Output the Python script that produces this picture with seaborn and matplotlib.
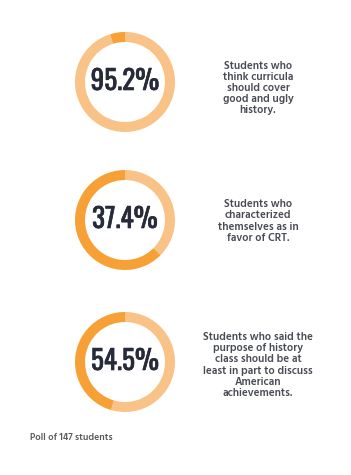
import matplotlib
matplotlib.use("Agg")
import matplotlib.pyplot as plt
import matplotlib.patheffects as pe
import seaborn as sns

# data
percents = [95.2, 37.4, 54.5]
pct_labels = ["95.2%", "37.4%", "54.5%"]
descriptions = [
    "Students who\nthink curricula\nshould cover\ngood and ugly\nhistory.",
    "Students who\ncharacterized\nthemselves as in\nfavor of CRT.",
    "Students who said the\npurpose of history\nclass should be at\nleast in part to discuss\nAmerican\nachievements.",
]
footnote = "Poll of 147 students"

sns.set_theme(style="white")
W, H = 351, 475
fig = plt.figure(figsize=(W / 100, H / 100), dpi=100)
fig.patch.set_facecolor("white")

light = "#F9C286"
dark = "#F7A036"
navy = "#272B39"
gray = "#4A4C55"
big_font = ["Oswald", "Fjalla One", "DejaVu Sans"]
body_font = ["Hind", "DejaVu Sans"]

centers_y = [82, 220, 362]
cx, r = 125, 50
text_y = [88, 221, 365]

for i, v in enumerate(percents):
    cy = centers_y[i]
    ax = fig.add_axes([(cx - r) / W, (H - cy - r) / H, 2 * r / W, 2 * r / H])
    ax.pie([v, 100 - v], startangle=90, counterclock=False,
           colors=[light, dark], wedgeprops=dict(width=0.2, linewidth=0))
    ax.set_xlim(-1, 1)
    ax.set_ylim(-1, 1)
    ax.set_aspect("equal")
    ax.axis("off")
    ax.text(0, 0.01, pct_labels[i], ha="center", va="center", fontsize=19.5,
            fontweight="bold", color=navy, family=big_font,
            path_effects=[pe.withStroke(linewidth=0.45, foreground=navy)])
    fig.text(258 / W, 1 - text_y[i] / H, descriptions[i], ha="center", va="center",
             fontsize=8, fontweight="semibold", color=gray, linespacing=1.15,
             family=body_font)

fig.text(30 / W, 1 - 437 / H, footnote, ha="left", va="center", fontsize=6.9,
         fontweight="semibold", color="#5A5A5A", family=body_font)

fig.savefig("out.png", dpi=100, facecolor="white")
